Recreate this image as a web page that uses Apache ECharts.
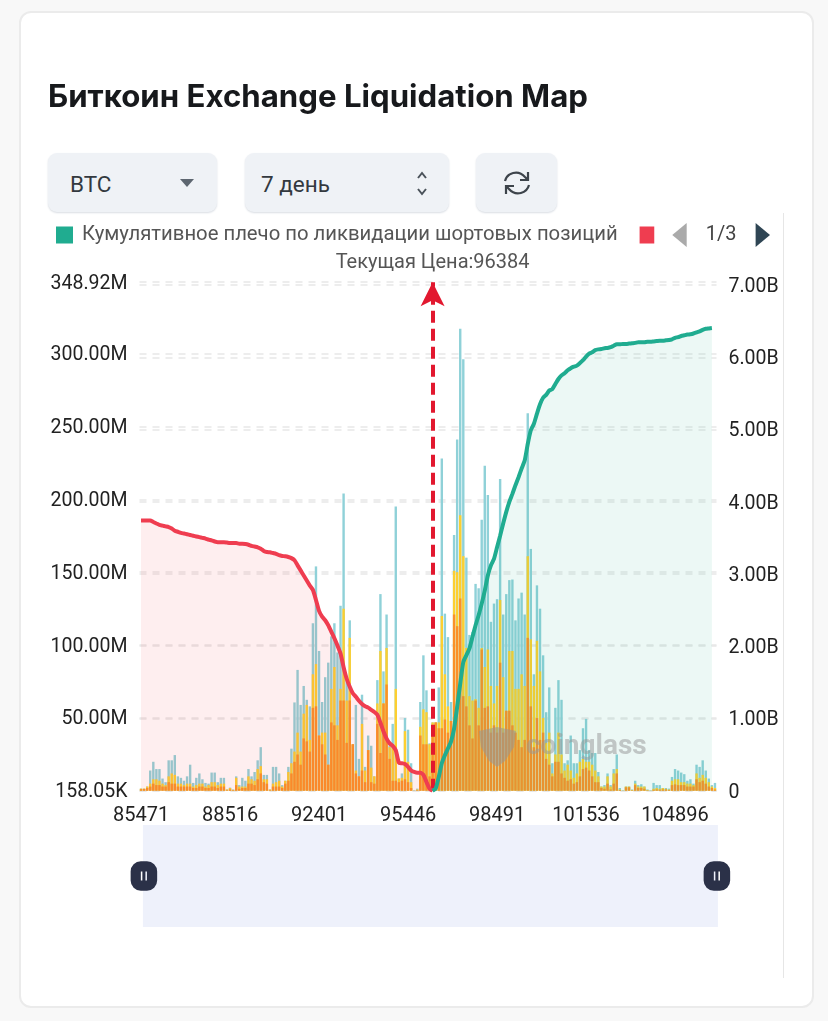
<!DOCTYPE html>
<html><head><meta charset="utf-8">
<style>
html,body{margin:0;padding:0;width:828px;height:1021px;background:#f8f8f8;overflow:hidden;font-family:Roboto,sans-serif}
#card{position:absolute;left:19px;top:11px;width:791px;height:993px;background:#fff;border:2px solid #ebebeb;border-radius:12px}
.btn{position:absolute;top:153px;height:59px;background:#eff2f6;border-radius:9px;box-shadow:0 1px 2px #d9dde3;color:#33393f;font-size:22.5px;line-height:62px;box-sizing:border-box}
#edge{position:absolute;left:783px;top:213px;width:1px;height:765px;background:#e6e6e6}
#main{position:absolute;left:0;top:0;width:828px;height:1021px}
svg{position:absolute}
</style></head><body>
<div id="card"></div>
<div class="btn" style="left:48px;width:169px;padding-left:22px">BTC<svg style="left:132px;top:26px" width="14" height="9"><path d="M0 0H14L7 8Z" fill="#5d6670"/></svg></div>
<div class="btn" style="left:245px;width:204px;padding-left:16px">7 день<svg style="left:169px;top:17px" width="16" height="28" fill="none" stroke="#4a525a" stroke-width="2"><path d="M4 8L8 3L12 8M4 19L8 24L12 19"/></svg></div>
<div class="btn" style="left:476px;width:81px"><svg style="left:26px;top:16px" width="30" height="28" fill="none" stroke="#3d444b" stroke-width="2.2"><path d="M3 12C5 4 16 0 23 8L26 11M27 16C25 24 14 28 7 20L4 17M26 3V11H18M4 25V17H12"/></svg></div>
<div id="edge"></div>
<div id="main"></div>
<script src="https://cdn.jsdelivr.net/npm/echarts@6/dist/echarts.min.js"></script>
<script>
const prices=[85471,85576,85681,85786,85891,85996,86101,86206,86311,86416,86521,86626,86731,86836,86941,87046,87151,87256,87361,87466,87571,87676,87781,87886,87991,88096,88201,88306,88411,88516,
88621,88726,88831,88936,89041,89146,89251,89356,89461,89566,89671,89776,
90721,90826,90931,91036,91141,91246,91351,91456,91561,91666,91771,91876,91981,92086,92191,92296,92401,
92506,92611,92716,92821,92926,93031,93136,93241,93346,93451,93556,93661,93766,93871,93976,94081,94186,94291,94396,94501,94606,94711,94816,94921,95026,95131,95236,95341,95446,
95551,95656,95761,95866,95971,96076,96181,96286,96391,96496,96601,96706,96811,96916,97021,97126,97231,97336,97441,97546,97651,97756,97861,97966,98071,98176,98281,98386,98491,
98596,98701,98806,98911,99016,99121,99226,99331,99436,99541,99646,99751,99856,99961,100066,100171,100276,100381,100486,100591,100696,100801,100906,101011,101116,101221,101326,101431,101536,
101641,101746,101851,101956,102061,102166,102271,102376,102481,102586,102691,102796,102901,103006,103111,103216,103321,103426,103531,103636,
104056,104161,104266,104371,104476,104581,104686,104791,104896,
105001,105106,105211,105316,105421,105526,105631,105736,105841,105946,106051,106156,106261];
const currentPrice=96384;
const leftTicks=[0.15805,50,100,150,200,250,300,348.92];
const rightTicks=[0,1,2,3,4,5,6,7];
// liquidation levels in millions, the height each colour reaches
const tealLevel=[1.6,1.6,3,14,20,15,15,8.5,6,21,21,24.6,10,9,7,10,18,5.5,9,12,8,5.5,5,12.6,12.6,6,9,9,1,
2.3,1,10,4,9,7,15,10,13,21,30,11,11,1,16.5,16.5,12,
4,7,16.5,29,60.7,83,59,72,62.5,58,115,154,96,61,78,88,106,115,95,127,204,76,117,32,59,22,66,16.5,
38,31,10,76,135,82,121,31,46,195,8.5,12,50,42,19,0.5,1.6,61,93,69,32.6,47,
47,71,228,121.6,105.5,61,175.6,241,317,296,160,107,109,142,139,186,223,203,116,128.5,131.5,214,121,
135,144.6,145,117,132,136,121,259,166,80,141,125,93,54,71,19,57,76,62.5,19,21,38,19,19,28,43,49.4,28,26,26,13,3,4,12,4,15,25,2,.5,3,3,1,7,4,4.6,3,1,.5,5.5,4,4,2,2,1.6,9.6,15,14,12.6,11.5,7,8,5,18,16.5,21,14,8.5,4,5.5];
const yellowLevel=[1.6,1.6,3,5,8,8,7,5,4,10,12,11,5,5,4,5,5,3,4,5,5,3,4,6,6,4,5,5,1,
2,.8,9,3,3,3,10,8,7,15,17,8,8,1,5,6,7,
3,7,13,19,27,40,27,53,59,35,80,87,38,40,40,18,70,85,45,70,125,62,105,32,14,10,46,14,
28,16,10,60,96,60,98,30,32,70,8.5,9,41,20,6,.3,1,44,56,54,32,47,
47,47,120,80,58,48,151,150,189,161,98,65,62,63,57,98,85,97,72,60,72,131,78,
55,96,96,70,70,80,72,161,104,72,103,82,50,33,40,12,25,40,25,14,18,14,9,12,20,22,20,20,18,14,10,3,3,10,3,12,15,1,.3,3,3,.7,5,3,3,3,.7,.3,1.5,2,1.5,2,1.5,1,7,8,8,6,6,5,5,4,12,9,11,9,6,3,2];
const orangeLevel=[1.2,1.3,2,3,5,4,4,3,3,6,5,5,3,3,3,3,3,2,2,3,3,2,2,3,3,2,3,3,.5,
1,.5,4,1.5,2,2,5,5,4,8,12,6,5,.5,3,3,3,
2,5,7,12,20,25,18,36,34,27,57,58,38,32,25,18,47,45,35,62,62,33,62,32,12,10,14,6,
28,6,5,46,26,60,73,22,7,7,6,7,8,6,2,.2,.5,38,32,32,10,45,
47,43,43,49,40,48,121,113,132,65,58,45,36,62,45,97,57,58,40,45,40,88,40,
55,55,45,40,35,30,35,105,58,30,50,35,40,22,18,10,20,20,12,9,7,8,5,6,10,15,16,14,10,6,6,2,1.5,5,1,5,12,.6,.2,2.5,2.5,.4,4,2,2,1.5,.4,.2,.8,1,.8,1,1,.6,4,4.5,4,4,4,3,3,3,8,6,7,5,3,2,1];
// cumulative leverage in billions
const longCumulative=[3.74,3.74,3.74,3.74,3.72,3.70,3.68,3.67,3.66,3.65,3.63,3.60,3.585,3.57,3.56,3.55,3.54,3.53,3.52,3.51,3.50,3.49,3.475,3.465,3.45,3.44,3.44,3.44,3.435,3.43,3.43,3.43,3.42,3.42,3.415,3.405,3.39,3.38,3.37,3.35,3.32,3.305,3.30,3.29,3.28,3.26,3.25,3.245,3.235,3.22,3.19,3.12,3.05,2.98,2.91,2.84,2.78,2.64,2.49,2.41,2.36,2.29,2.20,2.11,2.01,1.90,1.71,1.55,1.44,1.35,1.30,1.245,1.20,1.17,1.15,1.12,1.09,1.05,.94,.82,.72,.655,.62,.56,.39,.38,.37,.33,.28,.26,.25,.25,.22,.12,.03,0];
const shortCumulative=[0,.03,.19,.38,.49,.585,.68,.86,1.16,1.48,1.78,1.875,1.97,2.13,2.29,2.43,2.59,2.77,2.98,3.12,3.21,3.37,3.53,3.70,3.86,4.0,4.11,4.23,4.34,4.46,4.57,4.80,4.99,5.08,5.22,5.35,5.44,5.48,5.54,5.56,5.63,5.70,5.75,5.78,5.82,5.85,5.87,5.885,5.92,5.96,6.01,6.05,6.07,6.10,6.11,6.115,6.125,6.13,6.14,6.16,6.18,6.18,6.185,6.185,6.19,6.195,6.20,6.21,6.21,6.21,6.215,6.215,6.22,6.225,6.23,6.23,6.235,6.24,6.25,6.27,6.28,6.295,6.305,6.315,6.32,6.33,6.345,6.36,6.38,6.395,6.40,6.405];

const axisFont='"Liberation Sans Narrow",Roboto,sans-serif';
let currentIdx=0; prices.forEach((p,i)=>{if(p<=currentPrice)currentIdx=i;});
const longData=prices.map((_,i)=>i<longCumulative.length?longCumulative[i]:null);
const shortData=prices.map((_,i)=>i>=currentIdx&&i-currentIdx<shortCumulative.length?shortCumulative[i-currentIdx]:null);
const fmtLeft=v=>'{a|'+(v<1?(v*1000).toFixed(2)+'K':v.toFixed(2)+'M')+'}';
const fmtRight=v=>'{a|'+(v===0?'0':v.toFixed(2)+'B')+'}';
const split={show:true,lineStyle:{type:[7,6],color:'#e8e8e8',width:1.5}};
const barCommon={type:'bar',barWidth:2.4,barGap:'-100%',animation:false,silent:true};
const handle='path://M10 0H16A10 10 0 0 1 26 10V19A10 10 0 0 1 16 29H10A10 10 0 0 1 0 19V10A10 10 0 0 1 10 0ZM10 10V19H11.5V10ZM14.5 10V19H16V10Z';
const labelRich=pad=>({a:{padding:[pad,0,0,0],fontFamily:axisFont,fontSize:19.5,color:'#222'}});
const chart=echarts.init(document.getElementById('main'),null,{renderer:'canvas'});
chart.setOption({
 animation:false,
 backgroundColor:'transparent',
 title:{text:'Биткоин Exchange Liquidation Map',left:43,top:77,textStyle:{fontFamily:'Inter',fontWeight:700,fontSize:31.2,color:'#17191c'}},
 legend:{type:'scroll',left:51,top:218,width:714,itemWidth:17,itemHeight:17,itemGap:22,icon:'rect',
   data:['Кумулятивное плечо по ликвидации шортовых позиций','Кумулятивное плечо по ликвидации лонговых позиций','100x Уровень плеча','50x Уровень плеча'],
   textStyle:{fontFamily:'Roboto',fontSize:20.3,color:'#555',padding:[0,0,0,4]},
   pageIconColor:'#2f4554',pageIconInactiveColor:'#aaa',pageIconSize:[16,24],pageButtonGap:18,pageButtonItemGap:10.5,
   pageTextStyle:{fontFamily:'Roboto',fontSize:20,color:'#444'}},
 grid:{left:139.5,top:282.2,width:577,height:508.5,containLabel:false},
 xAxis:{type:'category',data:prices,boundaryGap:true,
   axisLine:{show:false},axisTick:{show:false},splitLine:{show:false},
   axisLabel:{interval:28,margin:15,hideOverlap:false,fontFamily:axisFont,fontSize:20,color:'#222'}},
 yAxis:[
  {type:'value',min:leftTicks[0],max:leftTicks[leftTicks.length-1],position:'left',
   axisLine:{show:false},axisTick:{show:false,customValues:leftTicks},splitLine:split,
   axisLabel:{customValues:leftTicks,formatter:fmtLeft,margin:12,rich:labelRich(3)}},
  {type:'value',min:0,max:7.04,position:'right',
   axisLine:{show:false},axisTick:{show:false,customValues:rightTicks},splitLine:split,
   axisLabel:{formatter:fmtRight,margin:12,rich:labelRich(4),customValues:rightTicks}}
 ],
 dataZoom:[{type:'slider',xAxisIndex:0,left:142,width:575,top:825,height:102,start:0,end:100,
   backgroundColor:'transparent',borderColor:'transparent',fillerColor:'#eef1fb',showDetail:false,showDataShadow:false,
   brushSelect:false,moveHandleSize:0,handleIcon:handle,handleSize:'29%',
   handleStyle:{color:'#2b3148',borderColor:'#2b3148',borderWidth:0}}],
 graphic:[
  {type:'polygon',left:479,top:727,silent:true,z:20,shape:{points:[[0,4],[18,0],[37,4],[35,20],[26,34],[18,40],[10,34],[2,20]]},style:{fill:'rgba(150,150,150,.55)'}},
  {type:'text',left:526,top:733,silent:true,z:20,style:{text:'coinglass',fontFamily:'Roboto',fontWeight:700,fontSize:28,fill:'rgba(150,150,150,.5)'}}
 ],
 series:[
  {...barCommon,name:'25x Уровень плеча',data:tealLevel,itemStyle:{color:'#8fd1d8'},z:2},
  {...barCommon,name:'50x Уровень плеча',data:yellowLevel,itemStyle:{color:'#fdcf30'},z:3},
  {...barCommon,name:'100x Уровень плеча',data:orangeLevel,itemStyle:{color:'#fb9028'},z:4},
  {type:'line',name:'Кумулятивное плечо по ликвидации лонговых позиций',yAxisIndex:1,data:longData,showSymbol:false,smooth:.2,connectNulls:false,silent:true,z:6,
   itemStyle:{color:'#ef3d50'},lineStyle:{color:'#ef3d50',width:4},areaStyle:{color:'rgba(239,61,80,.13)'}},
  {type:'line',name:'Кумулятивное плечо по ликвидации шортовых позиций',yAxisIndex:1,data:shortData,showSymbol:false,smooth:.2,connectNulls:false,silent:true,z:7,
   itemStyle:{color:'#20ac90'},lineStyle:{color:'#20ac90',width:4},areaStyle:{color:'rgba(32,172,144,.12)'},
   markLine:{silent:true,animation:false,symbol:['none','arrow'],symbolSize:[18,24],
     lineStyle:{color:'#e2182f',type:[12,6],width:4},
     label:{show:true,position:'end',distance:9,formatter:'Текущая Цена:'+currentPrice,fontFamily:'Roboto',fontSize:20,color:'#555'},
     data:[{xAxis:currentIdx}]}}
 ]
});
</script></body></html>
